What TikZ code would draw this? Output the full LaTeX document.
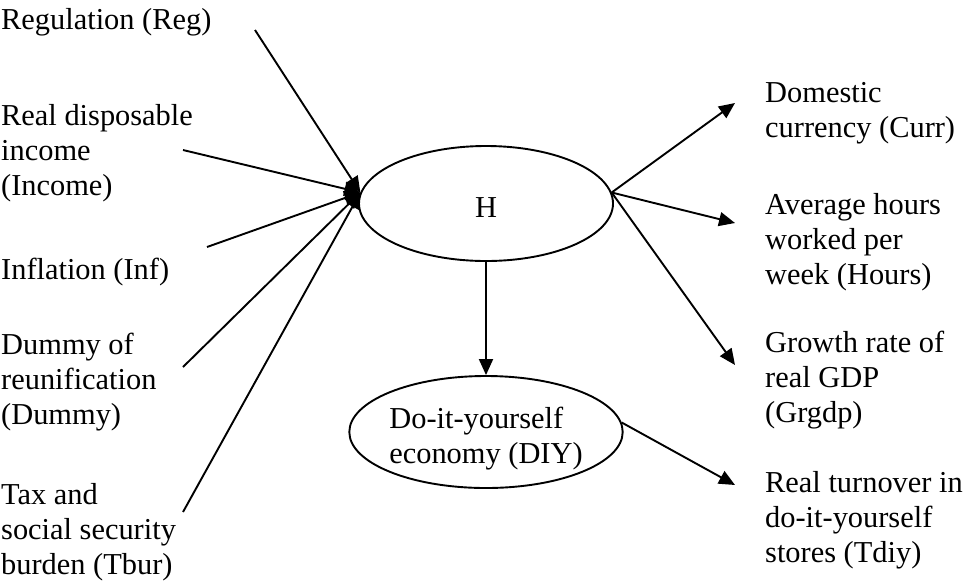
\documentclass[tikz,border=0pt]{standalone}
\usepackage{fontspec}
\setmainfont{Liberation Serif}
\usetikzlibrary{shapes.geometric,arrows.meta}
\begin{document}
\begin{tikzpicture}[x=1pt,y=-1pt,
  lbl/.style={font=\fontsize{30.4}{34.6}\selectfont, inner sep=0pt, align=left, anchor=base west},
  ell/.style={draw, ellipse, line width=1.9pt, inner sep=0pt, minimum width=254pt,
              font=\fontsize{30.4}{34.6}\selectfont, align=left},
  arr/.style={line width=1.9pt, -{Triangle[length=16pt,width=14pt]}}]
\useasboundingbox (0,0) rectangle (965,582);
% constructs
\node[ell, minimum height=115pt, text height=27pt, text depth=0pt] (H) at (486,203.5) {H};
\node[ell, minimum height=112pt, text height=62pt, text depth=0pt] (DIY) at (486,432) {Do-it-yourself\\economy (DIY)};
% causes (left); anchor is the baseline of the last line
\node[lbl] (reg)  at (1,29)  {Regulation (Reg)};
\node[lbl] (inc)  at (1,195) {Real disposable\\income\\(Income)};
\node[lbl] (inf)  at (1,279) {Inflation (Inf)};
\node[lbl] (dum)  at (1,424) {Dummy of\\reunification\\(Dummy)};
\node[lbl] (tbur) at (1,574) {Tax and\\social security\\burden (Tbur)};
% indicators (right)
\node[lbl] (curr)  at (765,137) {Domestic\\currency (Curr)};
\node[lbl] (hours) at (765,284) {Average hours\\worked per\\week (Hours)};
\node[lbl] (grgdp) at (765,422) {Growth rate of\\real GDP\\(Grgdp)};
\node[lbl] (tdiy)  at (765,562) {Real turnover in\\do-it-yourself\\stores (Tdiy)};
% free ends of connectors
\coordinate (sReg)   at (255,30);
\coordinate (sInc)   at (183,150);
\coordinate (sInf)   at (207,247);
\coordinate (sDum)   at (183,367);
\coordinate (sTbur)  at (183,512);
\coordinate (tCurr)  at (735,103);
\coordinate (tHours) at (735,223);
\coordinate (tGrgdp) at (735,365);
\coordinate (tTdiy)  at (735,485);
% connectors
\draw[arr] (sReg)  -- (H.175);
\draw[arr] (sInc)  -- (H.175);
\draw[arr] (sInf)  -- (H.175);
\draw[arr] (sDum)  -- (H.175);
\draw[arr] (sTbur) -- (H.175);
\draw[arr] (H.5) -- (tCurr);
\draw[arr] (H.5) -- (tHours);
\draw[arr] (H.5) -- (tGrgdp);
\draw[arr] (H.south) -- (DIY.north);
\draw[arr] (DIY.4) -- (tTdiy);
\end{tikzpicture}
\end{document}
